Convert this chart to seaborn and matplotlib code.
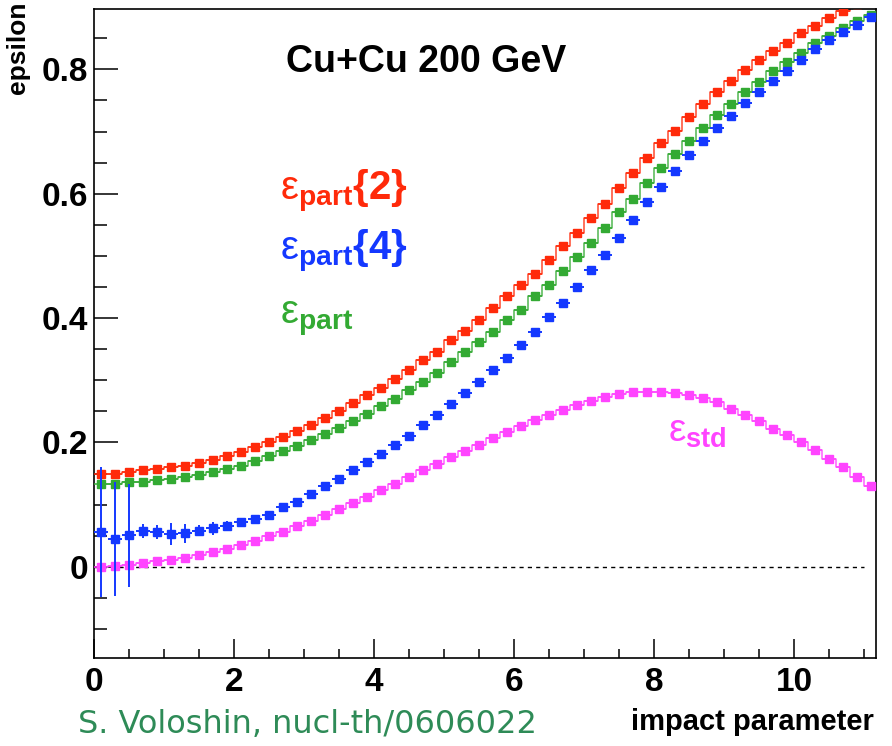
import numpy as np
import pandas as pd
import seaborn as sns
import matplotlib.pyplot as plt
from matplotlib.ticker import MultipleLocator

# impact parameter binning: 56 bins of 0.2 between 0 and 11.2
b_edges = np.linspace(0.0, 11.2, 57)
b = 0.5 * (b_edges[1:] + b_edges[:-1])
half_bin = 0.1

eps_part2 = [0.150, 0.150, 0.153, 0.155, 0.158, 0.160, 0.163, 0.167, 0.172, 0.178,
             0.185, 0.192, 0.201, 0.209, 0.219, 0.228, 0.239, 0.250, 0.264, 0.277,
             0.287, 0.302, 0.317, 0.332, 0.346, 0.364, 0.380, 0.397, 0.416, 0.436,
             0.453, 0.471, 0.494, 0.516, 0.537, 0.561, 0.584, 0.609, 0.633, 0.657,
             0.681, 0.701, 0.723, 0.744, 0.763, 0.782, 0.799, 0.815, 0.830, 0.843,
             0.858, 0.870, 0.883, 0.894, 0.905, 0.916]

eps_part = [0.133, 0.133, 0.136, 0.136, 0.139, 0.142, 0.145, 0.148, 0.152, 0.158,
            0.163, 0.171, 0.178, 0.186, 0.195, 0.204, 0.214, 0.224, 0.235, 0.246,
            0.258, 0.270, 0.285, 0.298, 0.312, 0.329, 0.345, 0.361, 0.378, 0.397,
            0.413, 0.435, 0.453, 0.476, 0.498, 0.520, 0.545, 0.570, 0.592, 0.618,
            0.641, 0.664, 0.685, 0.706, 0.727, 0.744, 0.763, 0.780, 0.797, 0.811,
            0.827, 0.842, 0.854, 0.866, 0.877, 0.887]

eps_part4 = [0.056, 0.045, 0.051, 0.058, 0.056, 0.053, 0.054, 0.058, 0.062, 0.066,
             0.072, 0.077, 0.084, 0.096, 0.104, 0.117, 0.130, 0.141, 0.155, 0.168,
             0.182, 0.196, 0.211, 0.228, 0.244, 0.262, 0.279, 0.298, 0.317, 0.336,
             0.357, 0.377, 0.401, 0.424, 0.450, 0.477, 0.502, 0.529, 0.557, 0.586,
             0.611, 0.637, 0.662, 0.685, 0.706, 0.725, 0.746, 0.764, 0.782, 0.798,
             0.815, 0.832, 0.847, 0.860, 0.872, 0.884]

eps_part4_err = [0.104, 0.092, 0.083, 0.011, 0.011, 0.018, 0.015, 0.009, 0.010, 0.008,
                 0.006, 0.005, 0.004, 0.004, 0.004, 0.003, 0.003, 0.003, 0.003, 0.003,
                 0.003, 0.003, 0.003, 0.003, 0.003, 0.003, 0.003, 0.003, 0.003, 0.003,
                 0.002, 0.002, 0.002, 0.002, 0.002, 0.002, 0.002, 0.002, 0.002, 0.002,
                 0.002, 0.002, 0.002, 0.002, 0.002, 0.002, 0.002, 0.002, 0.002, 0.002,
                 0.002, 0.002, 0.002, 0.002, 0.002, 0.002]

eps_std = [0.000, 0.001, 0.003, 0.007, 0.009, 0.011, 0.015, 0.019, 0.024, 0.028,
           0.035, 0.042, 0.049, 0.056, 0.065, 0.074, 0.084, 0.093, 0.102, 0.113,
           0.123, 0.134, 0.145, 0.156, 0.166, 0.177, 0.187, 0.196, 0.208, 0.217,
           0.226, 0.236, 0.244, 0.252, 0.260, 0.267, 0.273, 0.278, 0.281, 0.281,
           0.281, 0.279, 0.277, 0.271, 0.265, 0.254, 0.244, 0.235, 0.222, 0.212,
           0.200, 0.188, 0.174, 0.161, 0.145, 0.130]

RED = '#ff2a0a'
GREEN = '#33aa33'
BLUE = '#1438ff'
PINK = '#ff44ff'

sns.set_style('white')
plt.rcParams['font.family'] = ['Liberation Sans', 'DejaVu Sans']
plt.rcParams['text.color'] = 'black'
plt.rcParams['mathtext.fontset'] = 'custom'
plt.rcParams['mathtext.rm'] = 'Liberation Sans'
plt.rcParams['mathtext.it'] = 'Liberation Sans'
plt.rcParams['mathtext.bf'] = 'Liberation Sans:bold'

W, H = 892, 746
fig = plt.figure(figsize=(W / 100, H / 100), dpi=100)
ax = fig.add_axes([94 / W, 1 - 658.3 / H, 782 / W, 649.3 / H])

# histogram outlines (steps) for the three curves drawn as "hist"
df = pd.DataFrame({
    'b': np.concatenate([b, b, b]),
    'eps': np.concatenate([eps_part2, eps_part, eps_std]),
    'series': ['part2'] * len(b) + ['part'] * len(b) + ['std'] * len(b),
})
sns.lineplot(data=df, x='b', y='eps', hue='series',
             palette={'part2': RED, 'part': GREEN, 'std': PINK},
             estimator=None, drawstyle='steps-mid', lw=1.1, alpha=0.85,
             legend=False, ax=ax)

for y, c in [(eps_part2, RED), (eps_part, GREEN), (eps_std, PINK)]:
    ax.errorbar(b, y, xerr=half_bin, fmt='s', ms=6, color=c,
                elinewidth=1.1, capsize=0, zorder=3)
ax.errorbar(b, eps_part4, xerr=half_bin, yerr=eps_part4_err, fmt='s', ms=6,
            color=BLUE, elinewidth=1.4, capsize=0, zorder=4)

ax.hlines(0, b_edges[0], 11.0, colors='black', linestyles=(0, (3, 3)), lw=1)

ax.set_xlim(0, 11.17)
ax.set_ylim(-0.147, 0.897)
ax.set_xlabel('')
ax.set_ylabel('')

ax.set_xticks([0, 2, 4, 6, 8, 10])
ax.set_xticklabels(['0', '2', '4', '6', '8', '10'], fontweight='bold', fontsize=24)
ax.set_yticks([0, 0.2, 0.4, 0.6, 0.8])
ax.set_yticklabels(['0', '0.2', '0.4', '0.6', '0.8'], fontweight='bold', fontsize=24)
ax.xaxis.set_minor_locator(MultipleLocator(0.5))
ax.yaxis.set_minor_locator(MultipleLocator(0.05))
ax.tick_params(axis='x', which='major', direction='in', length=14, width=1.1, pad=6)
ax.tick_params(axis='x', which='minor', direction='in', length=6.5, width=1.1)
ax.tick_params(axis='y', which='major', direction='in', length=17, width=1.1, pad=4)
ax.tick_params(axis='y', which='minor', direction='in', length=9, width=1.1)
ax.tick_params(which='both', top=False, right=False, bottom=True, left=True,
               colors='black')
for s in ax.spines.values():
    s.set_color('black')
    s.set_linewidth(1.2)

# labels and annotations
fig.text(18 / W, 1 - 2 / H, 'epsilon', rotation=90, ha='center', va='top',
         fontsize=19, fontweight='bold')
fig.text(874 / W, 1 - 730 / H, 'impact parameter', ha='right', va='baseline',
         fontsize=21, fontweight='bold')
fig.text(426 / W, 1 - 72 / H, 'Cu+Cu 200 GeV', ha='center', va='baseline',
         fontsize=27, fontweight='bold')

fig.text(280 / W, 1 - 200 / H, r'$\mathrm{\varepsilon}_{\mathbf{part}}\mathbf{\{2\}}$',
         color=RED, fontsize=29, va='baseline')
fig.text(280 / W, 1 - 260 / H, r'$\mathrm{\varepsilon}_{\mathbf{part}}\mathbf{\{4\}}$',
         color=BLUE, fontsize=29, va='baseline')
fig.text(280 / W, 1 - 323 / H, r'$\mathrm{\varepsilon}_{\mathbf{part}}$',
         color=GREEN, fontsize=29, va='baseline')
fig.text(668 / W, 1 - 442 / H, r'$\mathrm{\varepsilon}_{\mathbf{std}}$',
         color=PINK, fontsize=28, va='baseline')

fig.text(78 / W, 1 - 733 / H, 'S. Voloshin, nucl-th/0606022', color='#2e8b57',
         fontsize=23, family='DejaVu Sans', va='baseline')

fig.savefig('out.png', dpi=100)
